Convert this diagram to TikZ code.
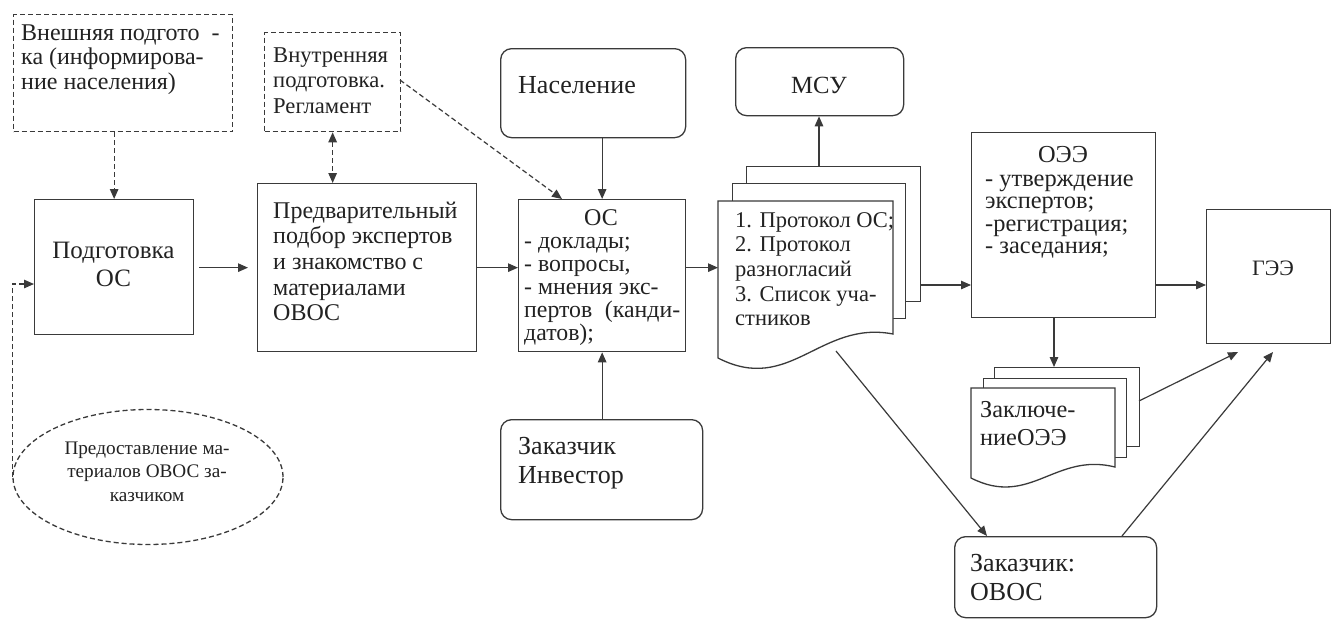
\documentclass[tikz,border=0pt]{standalone}
\usepackage{fontspec}
\setmainfont{Liberation Serif}
\usetikzlibrary{arrows.meta,shapes.geometric,calc}
\definecolor{lc}{HTML}{3A3A3A}
\definecolor{tc}{HTML}{222222}
\newcommand\myfs[2]{\fontsize{#1}{#2}\selectfont}
\newcommand\Ltext[1]{\vtop{\halign{##\hfil\cr#1\crcr}}}
\newcommand\Ctext[1]{\vtop{\halign{\hfil##\hfil\cr#1\crcr}}}
\begin{document}
\begin{tikzpicture}[x=1pt,y=-1pt,
  box/.style={draw=lc, line width=1.3pt, inner sep=0pt, anchor=north west, fill=white},
  dbox/.style={box, dash pattern=on 5pt off 3pt},
  rbox/.style={box, rounded corners=11pt},
  page/.style={draw=lc, line width=1.3pt, fill=white},
  ell/.style={draw=lc, line width=1.3pt, dash pattern=on 5pt off 3pt, ellipse, inner sep=0pt},
  txt/.style={inner sep=0pt, text=tc},
  tip/.style={-{Triangle[length=10pt,width=8.5pt]}},
  conn/.style={draw=lc, line width=1.2pt, tip},
  dconn/.style={conn, dash pattern=on 5pt off 3pt},
]
\useasboundingbox[fill=white] (0,0) rectangle (1331,619);

% ---------- boxes ----------
\node[dbox, minimum width=219pt, minimum height=117pt] (vn) at (13,14) {};
\node[dbox, minimum width=136pt, minimum height=99pt] (vnu) at (264,32) {};
\node[box, minimum width=159pt, minimum height=135pt] (podg) at (34,199) {};
\node[box, minimum width=219pt, minimum height=168pt] (pre) at (257,183) {};
\node[box, minimum width=167pt, minimum height=152pt] (oc) at (518,199) {};
\node[rbox, minimum width=185pt, minimum height=89pt] (nas) at (500,48) {};
\node[rbox, minimum width=202pt, minimum height=100pt] (inv) at (500,419) {};
\node[rbox, minimum width=168pt, minimum height=68pt] (msu) at (735,47) {};
\node[box, minimum width=184pt, minimum height=185pt] (oee) at (971,132) {};
\node[box, minimum width=124pt, minimum height=134pt] (gee) at (1206,209) {};
\node[rbox, minimum width=202pt, minimum height=81pt] (ovos) at (954,536) {};
\node[ell, minimum width=270pt, minimum height=135pt] (ell) at (148,477) {};

% protocol stack
\node[box, minimum width=174pt, minimum height=135pt] (p3) at (746,166) {};
\node[box, minimum width=173pt, minimum height=135pt] (p2) at (732,183) {};
\draw[page] (718,201) -- (893,201) -- (893,334)
  .. controls (820,320) and (790,395) .. (718,358) -- cycle;
\coordinate (pf) at (718,268);
\coordinate (pw) at (836,351);

% conclusion stack
\node[box, minimum width=145pt, minimum height=79pt] (z3) at (994,367) {};
\node[box, minimum width=143pt, minimum height=79pt] (z2) at (983,378) {};
\draw[page] (971,388) -- (1115,388) -- (1115,467)
  .. controls (1055,452) and (1030,508) .. (971,478) -- cycle;
\coordinate (zr) at (1139,401);

% ---------- texts ----------
\node[txt, anchor=base west, font=\myfs{24}{24.5}] (tvn) at (21,40)
  {\Ltext{Внешняя подгото\hspace{0.5em}-\cr ка (информирова-\cr ние населения)}};
\node[txt, anchor=base west, font=\myfs{22.6}{25.5}] (tvnu) at (273,62)
  {\Ltext{Внутренняя\cr подготовка.\cr Регламент}};
\node[txt, anchor=base, font=\myfs{25}{28}] (tpodg) at (113.5,258)
  {\Ctext{Подготовка\cr ОС}};
\node[txt, anchor=base west, font=\myfs{24}{25.7}] (tpre) at (273,218)
  {\Ltext{Предварительный\cr подбор экспертов\cr и знакомство с\cr материалами\cr ОВОС}};
\node[txt, anchor=base, font=\myfs{24}{23}] (toc1) at (601,225) {ОС};
\node[txt, anchor=base west, font=\myfs{23.8}{23}] (toc2) at (524,248)
  {\Ltext{- доклады;\cr - вопросы,\cr - мнения экс-\cr \hbox to 156pt{пертов\hfill(канди-}\cr датов);}};
\node[txt, anchor=base west, font=\myfs{26}{29}] (tnas) at (518,93) {Население};
\node[txt, anchor=base west, font=\myfs{26}{29.5}] (tinv) at (518,454)
  {\Ltext{Заказчик\cr Инвестор}};
\node[txt, anchor=base, font=\myfs{24.7}{25}] (tmsu) at (819,93) {МСУ};
\node[txt, anchor=base west, font=\myfs{22.5}{24.7}] (tpr) at (735,227)
  {\Ltext{1. Протокол ОС;\cr 2. Протокол\cr разногласий\cr 3. Список уча-\cr стников}};
\node[txt, anchor=base, font=\myfs{24.4}{22.5}] (toee1) at (1063,162) {ОЭЭ};
\node[txt, anchor=base west, font=\myfs{24.4}{22.5}] (toee2) at (985,186)
  {\Ltext{- утверждение\cr экспертов;\cr -регистрация;\cr - заседания;}};
\node[txt, anchor=base, font=\myfs{22}{25}] (tgee) at (1273,275) {ГЭЭ};
\node[txt, anchor=base west, font=\myfs{24.3}{28}] (tz) at (980,417)
  {\Ltext{Заключе-\cr ниеОЭЭ}};
\node[txt, anchor=base west, font=\myfs{26}{29}] (tovos) at (970,571)
  {\Ltext{Заказчик:\cr ОВОС}};
\node[txt, anchor=base, font=\myfs{19.2}{23.5}] (tell) at (147,454)
  {\Ctext{Предоставление ма-\cr териалов ОВОС за-\cr казчиком}};

% ---------- connectors ----------
\draw[dconn] (podg.north |- vn.south) -- (podg.north);
\draw[dconn, {Triangle[length=10pt,width=8.5pt]}-{Triangle[length=10pt,width=8.5pt]}]
  (vnu.south) -- (vnu.south |- pre.north);
\coordinate (vnuo) at (400,80);
\coordinate (ocin) at (562,199);
\draw[dconn] (vnuo) -- (ocin);
\coordinate (podgin) at (34,284);
\draw[dconn] (ell.west) -- (ell.west |- podgin) -- (podgin);
\draw[conn, shorten <=5pt, shorten >=9pt] (podg.east |- pre.east) -- (pre.west);
\draw[conn] (pre.east) -- (pre.east -| oc.west);
\draw[conn] (oc.north |- nas.south) -- (oc.north);
\draw[conn] (oc.south |- inv.north) -- (oc.south);
\draw[conn] (pre.east -| oc.east) -- (pre.east -| pf);
\coordinate (p3top) at (819,166);
\draw[conn] (p3top) -- (p3top |- msu.south);
\coordinate (p3r) at (920,285);
\draw[conn] (p3r) -- (p3r -| oee.west);
\draw[conn] (oee.east |- p3r) -- (p3r -| gee.west);
\coordinate (oeeb) at (1054,317);
\draw[conn] (oeeb) -- (oeeb |- z3.north);
\coordinate (g1) at (1238,352);
\coordinate (g2) at (1273,352);
\draw[conn] (zr) -- (g1);
\coordinate (ovt) at (1122,536);
\draw[conn] (ovt) -- (g2);
\coordinate (ovin) at (987,536);
\draw[conn] (pw) -- (ovin);
\end{tikzpicture}
\end{document}
